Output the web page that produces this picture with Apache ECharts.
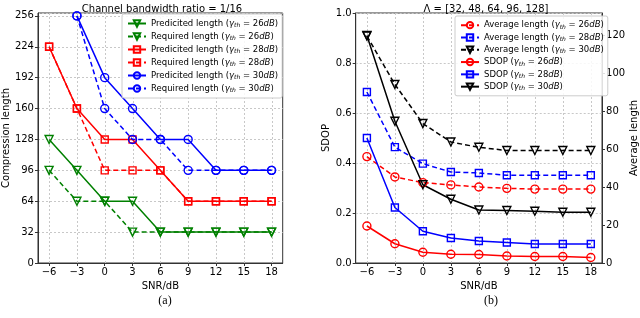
<!DOCTYPE html>
<html><head><meta charset="utf-8">
<script src="https://cdn.jsdelivr.net/npm/echarts@6/dist/echarts.min.js"></script>
<style>html,body{margin:0;padding:0;background:#fff}#c{width:640px;height:318px}</style>
</head><body><div id="c"></div>
<script>
// ---- data ----
const snr = [-6, -3, 0, 3, 6, 9, 12, 15, 18];
// (a) compression length
const pred26 = [128, 96, 64, 64, 32, 32, 32, 32, 32];
const req26  = [96, 64, 64, 32, 32, 32, 32, 32, 32];
const pred28 = [224, 160, 128, 128, 96, 64, 64, 64, 64];
const req28  = [224, 160, 96, 96, 96, 64, 64, 64, 64];
const pred30 = [null, 256, 192, 160, 128, 128, 96, 96, 96];
const req30  = [null, 256, 160, 128, 128, 96, 96, 96, 96];
const leftYTicks = [0, 32, 64, 96, 128, 160, 192, 224, 256];
// (b) average length & SDOP
const avg26 = [56.0, 45.3, 42.3, 41.1, 40.0, 39.3, 38.9, 38.9, 38.9];
const avg28 = [90.0, 61.0, 52.3, 47.9, 47.4, 46.2, 46.2, 46.2, 46.2];
const avg30 = [119.5, 94.0, 73.4, 63.7, 60.9, 59.2, 59.2, 59.2, 59.2];
const sdop26 = [0.148, 0.077, 0.043, 0.035, 0.034, 0.028, 0.026, 0.026, 0.022];
const sdop28 = [0.500, 0.222, 0.127, 0.100, 0.088, 0.082, 0.076, 0.076, 0.076];
const sdop30 = [0.910, 0.567, 0.313, 0.255, 0.212, 0.210, 0.207, 0.203, 0.203];
const sdopTicks = [0, 0.2, 0.4, 0.6, 0.8, 1.0];
const avgTicks = [0, 20, 40, 60, 80, 100, 120];

const pairs = v => snr.map((x, i) => [x, v[i]]);
const FONT = 'DejaVu Sans';
const AX = '#333';
const GRIDLINE = {color: '#c8c8c8', type: [2, 2], width: 1};
const LEFT_MAX = 259, SDOP_MAX = 1.0, AVG_MAX = 131.6;

function xAxis(gi) {
  return {
    type: 'value', gridIndex: gi, min: -7.2, max: 19.2,
    name: 'SNR/dB', nameLocation: 'middle', nameGap: 17,
    nameTextStyle: {fontFamily: FONT, fontSize: 10, color: '#000'},
    axisLine: {show: true, onZero: false, lineStyle: {color: AX}},
    axisTick: {show: true, inside: false, length: 3, customValues: snr, lineStyle: {color: AX}},
    axisLabel: {customValues: snr, fontFamily: FONT, fontSize: 10, color: '#000', margin: 4,
      formatter: v => (v < 0 ? '\u2212' + (-v) : '' + v)},
    splitLine: {show: false}
  };
}

function yAxis(gi, opts) {
  return Object.assign({
    type: 'value', gridIndex: gi,
    nameLocation: 'middle',
    nameTextStyle: {fontFamily: FONT, fontSize: 10, color: '#000'},
    axisLine: {show: true, onZero: false, lineStyle: {color: AX}},
    axisTick: {show: true, length: 3, lineStyle: {color: AX}},
    splitLine: {show: true, lineStyle: GRIDLINE}
  }, opts);
}

// vertical grid lines at each SNR tick, placed through the axis scale (custom series)
function vGrid(name, xi, yi, ymax) {
  return {
    type: 'custom', name: name, coordinateSystem: 'cartesian2d', xAxisIndex: xi, yAxisIndex: yi,
    data: snr.map(x => [x, ymax]), encode: {x: 0, y: 1},
    animation: false,
    renderItem: function (params, api) {
      const x = api.value(0);
      const p1 = api.coord([x, 0]);
      const p2 = api.coord([x, api.value(1)]);
      const px = Math.round(p1[0]) + 0.5;
      return {
        type: 'line',
        shape: {x1: px, y1: p1[1], x2: px, y2: p2[1]},
        style: {stroke: '#c8c8c8', lineWidth: 1, lineDash: [2, 2]}
      };
    }
  };
}

function lineSeries(name, xi, yi, data, color, symbol, dashed) {
  return {
    type: 'line', name: name, xAxisIndex: xi, yAxisIndex: yi,
    data: pairs(data), z: 3,
    symbol: symbol === 'tri' ? 'triangle' : symbol,
    symbolRotate: symbol === 'tri' ? 180 : 0,
    symbolSize: symbol === 'rect' ? 7 : 8,
    showSymbol: true,
    lineStyle: {color: color, width: 1.5, type: dashed ? [5, 3] : 'solid'},
    itemStyle: {color: 'rgba(255,255,255,0)', borderColor: color, borderWidth: 1.4},
    connectNulls: false, animation: false
  };
}

const rich = {
  n: {fontFamily: FONT, fontSize: 8.5, color: '#000', verticalAlign: 'middle'},
  g: {fontFamily: FONT, fontSize: 8.5, fontStyle: 'italic', color: '#000', verticalAlign: 'middle'},
  s: {fontFamily: FONT, fontSize: 6, fontStyle: 'italic', color: '#000', verticalAlign: 'middle', padding: [4, 0, 0, 0]}
};
function fmt(name) {
  const m = name.match(/^(.*) \(g(\d+)\)$/);
  return '{n|' + m[1] + ' (}{g|\u03b3}{s|th}{n| = ' + m[2] + '}{g|dB}{n|)}';
}

const namesA = ['Predicited length (g26)', 'Required length (g26)', 'Predicited length (g28)',
  'Required length (g28)', 'Predicited length (g30)', 'Required length (g30)'];
const namesB = ['Average length (g26)', 'Average length (g28)', 'Average length (g30)',
  'SDOP (g26)', 'SDOP (g28)', 'SDOP (g30)'];

const option = {
  backgroundColor: '#fff',
  animation: false,
  title: [
    {text: 'Channel bandwidth ratio = 1/16', left: 157, top: -1, textAlign: 'center',
      textStyle: {fontFamily: FONT, fontSize: 10, fontWeight: 'normal', color: '#000'}},
    {text: '\u039b = [32, 48, 64, 96, 128]', left: 481, top: -1, textAlign: 'center',
      textStyle: {fontFamily: FONT, fontSize: 10, fontWeight: 'normal', color: '#000'}},
    {text: '(a)', left: 160, top: 290, textAlign: 'center',
      textStyle: {fontFamily: 'Liberation Serif', fontSize: 12, fontWeight: 'normal', color: '#000'}},
    {text: '(b)', left: 486, top: 290, textAlign: 'center',
      textStyle: {fontFamily: 'Liberation Serif', fontSize: 12, fontWeight: 'normal', color: '#000'}}
  ],
  grid: [
    {left: 31.7, top: 13, width: 251, height: 250, show: true, borderColor: AX, borderWidth: 1, containLabel: false},
    {left: 355.7, top: 13, width: 252, height: 250, show: true, borderColor: AX, borderWidth: 1, containLabel: false}
  ],
  legend: [
    {data: namesA, orient: 'vertical', left: 122, top: 14, itemWidth: 18, itemHeight: 8, itemGap: 0,
      padding: [3, 4, 3, 5], backgroundColor: 'rgba(255,255,255,0.85)', borderColor: '#ccc', borderWidth: 1, borderRadius: 2,
      formatter: fmt, textStyle: {rich: rich, lineHeight: 13, height: 13}},
    {data: namesB, orient: 'vertical', left: 455, top: 16, itemWidth: 18, itemHeight: 8, itemGap: 0,
      padding: [3, 4, 3, 5], backgroundColor: 'rgba(255,255,255,0.85)', borderColor: '#ccc', borderWidth: 1, borderRadius: 2,
      formatter: fmt, textStyle: {rich: rich, lineHeight: 12.3, height: 12.3}}
  ],
  xAxis: [xAxis(0), xAxis(1)],
  yAxis: [
    yAxis(0, {min: 0, max: LEFT_MAX, interval: 32, name: 'Compression length', nameGap: 20,
      axisLabel: {fontFamily: FONT, fontSize: 10, color: '#000', margin: 4, showMaxLabel: false}}),
    yAxis(1, {min: 0, max: SDOP_MAX, interval: 0.2, name: 'SDOP', nameGap: 22,
      axisLabel: {fontFamily: FONT, fontSize: 10, color: '#000', margin: 4, formatter: v => v.toFixed(1)}}),
    yAxis(1, {min: 0, max: AVG_MAX, interval: 20, position: 'right', name: 'Average length', nameGap: 21, nameRotate: 90,
      splitLine: {show: false},
      axisLabel: {fontFamily: FONT, fontSize: 10, color: '#000', margin: 4, showMaxLabel: false}})
  ],
  series: [
    vGrid('gridA', 0, 0, LEFT_MAX),
    vGrid('gridB', 1, 1, SDOP_MAX),
    lineSeries(namesA[0], 0, 0, pred26, '#008000', 'tri', false),
    lineSeries(namesA[1], 0, 0, req26, '#008000', 'tri', true),
    lineSeries(namesA[2], 0, 0, pred28, '#ff0000', 'rect', false),
    lineSeries(namesA[3], 0, 0, req28, '#ff0000', 'rect', true),
    lineSeries(namesA[4], 0, 0, pred30, '#0000ff', 'circle', false),
    lineSeries(namesA[5], 0, 0, req30, '#0000ff', 'circle', true),
    lineSeries(namesB[0], 1, 2, avg26, '#ff0000', 'circle', true),
    lineSeries(namesB[1], 1, 2, avg28, '#0000ff', 'rect', true),
    lineSeries(namesB[2], 1, 2, avg30, '#000000', 'tri', true),
    lineSeries(namesB[3], 1, 1, sdop26, '#ff0000', 'circle', false),
    lineSeries(namesB[4], 1, 1, sdop28, '#0000ff', 'rect', false),
    lineSeries(namesB[5], 1, 1, sdop30, '#000000', 'tri', false)
  ]
};
const chart = echarts.init(document.getElementById('c'), null, {renderer: 'canvas'});
chart.setOption(option);
</script></body></html>
